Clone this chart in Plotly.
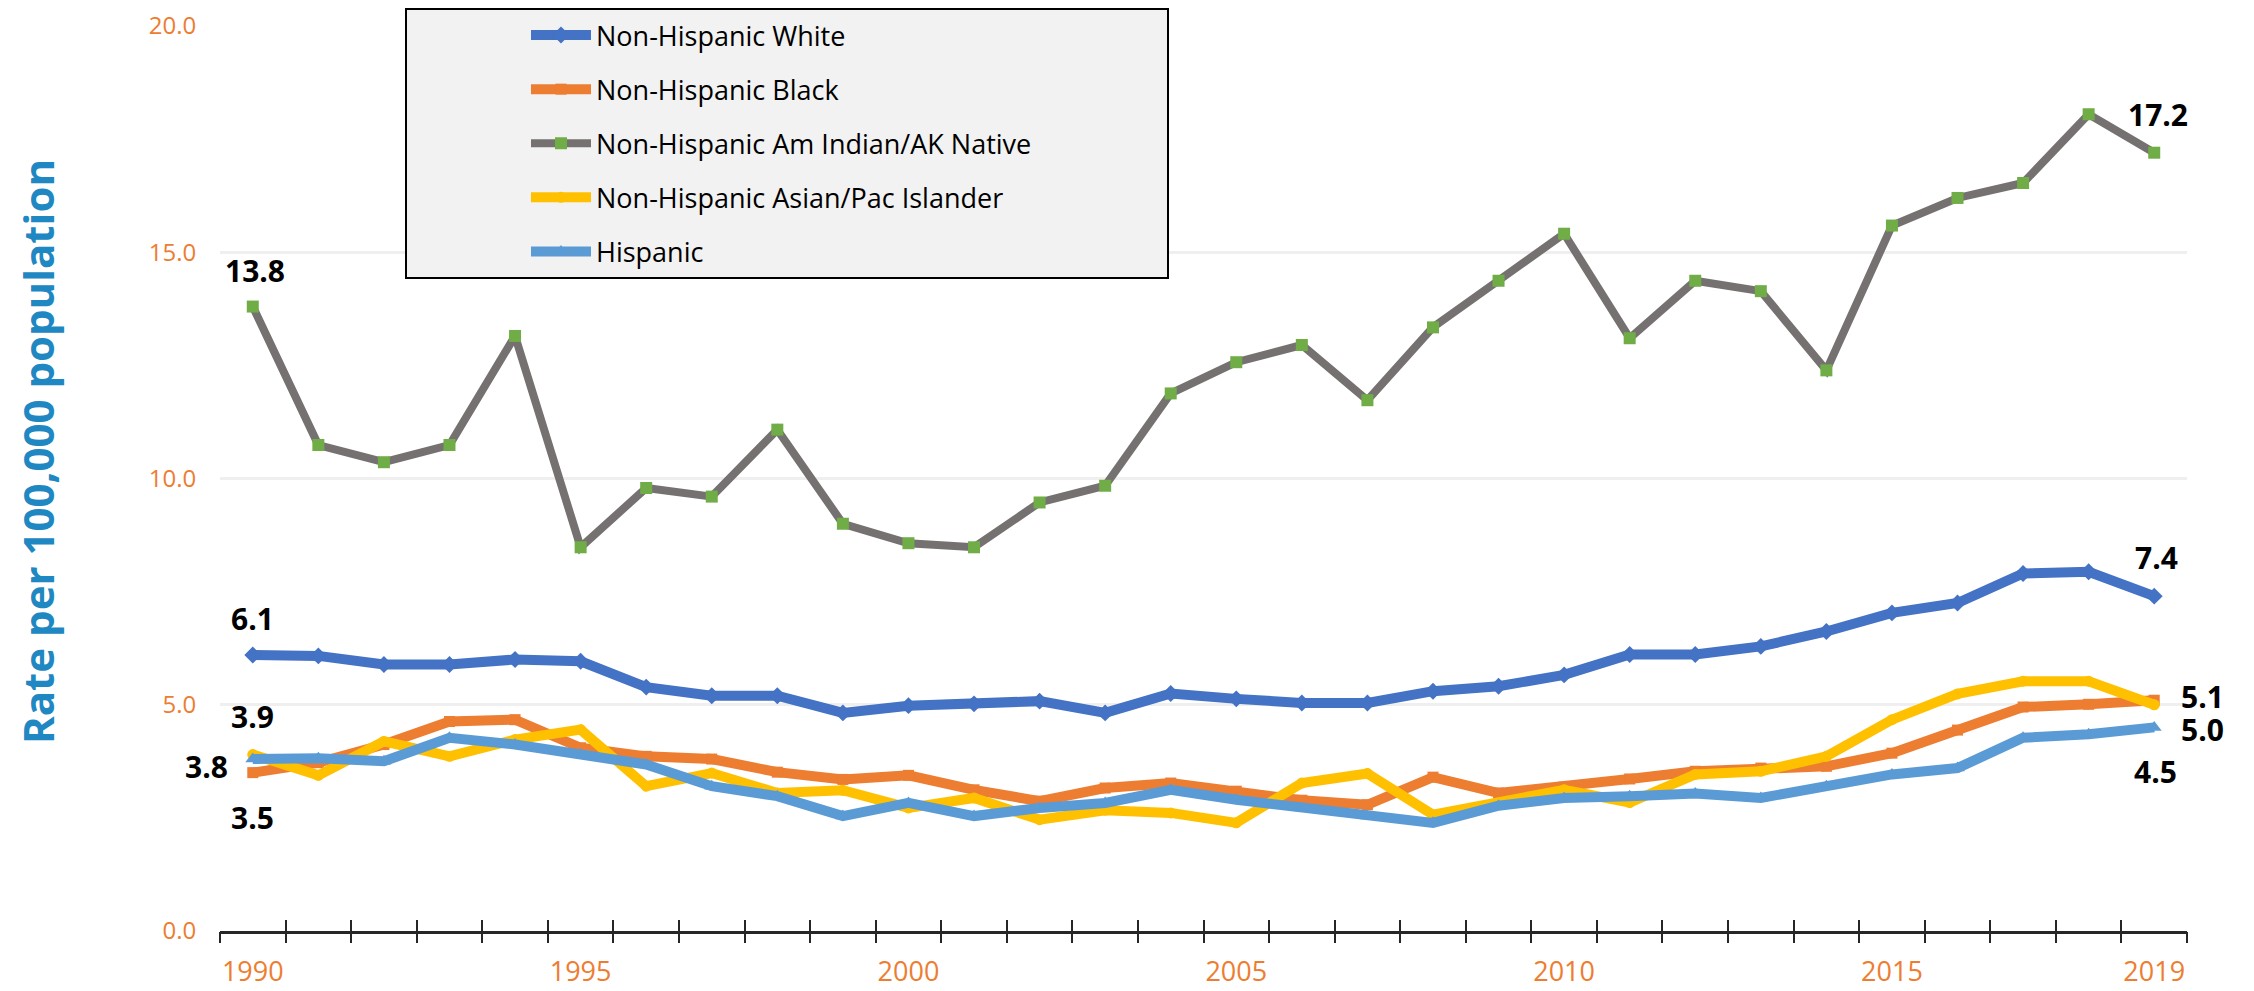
import plotly.graph_objects as go

years = list(range(1990, 2020))

white = [6.1, 6.08, 5.89, 5.89, 6.0, 5.96, 5.39, 5.2, 5.2, 4.82, 4.98, 5.02, 5.08, 4.82, 5.25,
         5.13, 5.04, 5.04, 5.3, 5.41, 5.66, 6.11, 6.11, 6.29, 6.62, 7.03, 7.25, 7.9, 7.94, 7.4]
black = [3.5, 3.72, 4.12, 4.63, 4.67, 4.05, 3.86, 3.8, 3.51, 3.35, 3.44, 3.12, 2.87, 3.16, 3.27,
         3.09, 2.89, 2.79, 3.4, 3.05, 3.18, 3.36, 3.53, 3.6, 3.64, 3.93, 4.44, 4.95, 5.01, 5.1]
aian = [13.8, 10.74, 10.36, 10.74, 13.15, 8.48, 9.79, 9.6, 11.08, 9.0, 8.57, 8.48, 9.47, 9.84, 11.88,
        12.57, 12.95, 11.73, 13.34, 14.37, 15.41, 13.1, 14.37, 14.14, 12.39, 15.59, 16.2, 16.53, 18.05, 17.2]
asian = [3.9, 3.44, 4.19, 3.86, 4.23, 4.45, 3.2, 3.49, 3.05, 3.11, 2.72, 2.94, 2.46, 2.67, 2.61,
         2.39, 3.27, 3.48, 2.57, 2.83, 3.12, 2.84, 3.46, 3.53, 3.86, 4.67, 5.24, 5.52, 5.52, 5.0]
hispanic = [3.8, 3.82, 3.75, 4.27, 4.12, 3.9, 3.68, 3.2, 2.98, 2.54, 2.83, 2.54, 2.72, 2.83, 3.12,
            2.9, 2.72, 2.54, 2.39, 2.77, 2.94, 2.98, 3.04, 2.94, 3.2, 3.46, 3.6, 4.27, 4.35, 4.5]

series_names = ["Non-Hispanic White", "Non-Hispanic Black", "Non-Hispanic Am Indian/AK Native",
                "Non-Hispanic Asian/Pac Islander", "Hispanic"]
x_label_years = [1990, 1995, 2000, 2005, 2010, 2015, 2019]
y_ticks = [0, 5, 10, 15, 20]

FONT = "Open Sans"
ORANGE_TXT = "#ED7D31"
# the page body adds an 8px offset, so the figure is 8px smaller than the window
W, H = 2246, 983
L, R, T, B = 212, 67, 18, 60
PW, PH = W - L - R, H - T - B          # plot area: window x 220..2187, y 26..931


def px(wx):  # window x -> paper x
    return (wx - 8 - L) / PW


def py(wy):  # window y -> paper y
    return (H - B + 8 - wy) / PH


styles = [
    dict(line=dict(color="#4472C4", width=10), marker=dict(symbol="diamond", size=13, color="#4472C4")),
    dict(line=dict(color="#ED7D31", width=10), marker=dict(symbol="square", size=11, color="#ED7D31")),
    dict(line=dict(color="#767171", width=8), marker=dict(symbol="square", size=12, color="#70AD47")),
    dict(line=dict(color="#FFC000", width=10), marker=dict(symbol="circle", size=11, color="#FFC000")),
    dict(line=dict(color="#5B9BD5", width=10), marker=dict(symbol="triangle-up", size=13, color="#5B9BD5")),
]

fig = go.Figure()
for i, (name, vals) in enumerate(zip(series_names, [white, black, aian, asian, hispanic])):
    fig.add_trace(go.Scatter(x=years, y=vals, name=name, mode="lines+markers",
                             legendgroup=f"g{i}", **styles[i]))

# empty helper traces so the two tick-only overlay axes get drawn (cross-style ticks)
for ax in ["x2", "x3"]:
    fig.add_trace(go.Scatter(x=[], y=[], xaxis=ax, yaxis="y", showlegend=False, hoverinfo="skip"))

# data labels: (series values, index, xshift, yshift)
label_specs = [
    (aian, 0, 2, 36), (white, 0, 0, 36), (asian, 0, 0, 38), (hispanic, 0, -46, -7), (black, 0, 0, -45),
    (aian, -1, 4, 38), (white, -1, 2, 39), (black, -1, 48, 4), (asian, -1, 48, -25), (hispanic, -1, 1, -44),
]
for vals, idx, xs, ys in label_specs:
    fig.add_annotation(x=years[idx], y=vals[idx], text=f"{vals[idx]:.1f}", showarrow=False,
                       xref="x", yref="y", xshift=xs, yshift=ys,
                       font=dict(family=FONT, size=30, color="black", weight="bold"))

# y-axis title
fig.add_annotation(text="Rate per 100,000 population", textangle=-90, showarrow=False,
                   xref="paper", yref="paper", x=px(37), y=py(452),
                   xanchor="center", yanchor="middle",
                   font=dict(family=FONT, size=42, color="#1F88C2", weight="bold"))

# legend box
fig.add_shape(type="rect", xref="paper", yref="paper",
              x0=px(406), x1=px(1168), y0=py(278), y1=py(9),
              line=dict(color="black", width=2), fillcolor="#F2F2F2", layer="above")

half_ticks = [y - 0.5 for y in years] + [years[-1] + 0.5]
xr = [years[0] - 0.5, years[-1] + 0.5]

tick_axis = dict(overlaying="x", anchor="y", side="bottom", range=xr, tickvals=half_ticks,
                 ticklen=11, tickwidth=1.5, tickcolor="#262626", automargin=False,
                 showticklabels=False, showgrid=False, zeroline=False, showline=False)

fig.update_layout(
    width=W, height=H,
    margin=dict(l=L, r=R, t=T, b=B, autoexpand=False),
    plot_bgcolor="white", paper_bgcolor="white",
    font=dict(family=FONT),
    showlegend=True,
    legend=dict(xref="container", yref="container", x=518 / W, y=1 - 3 / H,
                xanchor="left", yanchor="top",
                bgcolor="rgba(0,0,0,0)", borderwidth=0, tracegroupgap=16, itemwidth=60,
                font=dict(family=FONT, size=27, color="black")),
    xaxis=dict(range=xr, tickvals=x_label_years, ticktext=[str(v) for v in x_label_years],
               ticks="", showgrid=False, zeroline=False, showline=True, linecolor="#262626",
               linewidth=3, tickfont=dict(family=FONT, size=27, color=ORANGE_TXT),
               ticklabelstandoff=15, automargin=False),
    xaxis2=dict(ticks="outside", **tick_axis),
    xaxis3=dict(ticks="inside", **tick_axis),
    yaxis=dict(range=[0, 20], tickvals=y_ticks, tickformat=".1f", showgrid=True,
               gridcolor="#EFEFEF", gridwidth=2.5, zeroline=False, showline=False,
               ticks="outside", ticklen=18, tickcolor="rgba(0,0,0,0)", automargin=False,
               tickfont=dict(family=FONT, size=24, color=ORANGE_TXT)),
)

fig.write_html("out.html")
